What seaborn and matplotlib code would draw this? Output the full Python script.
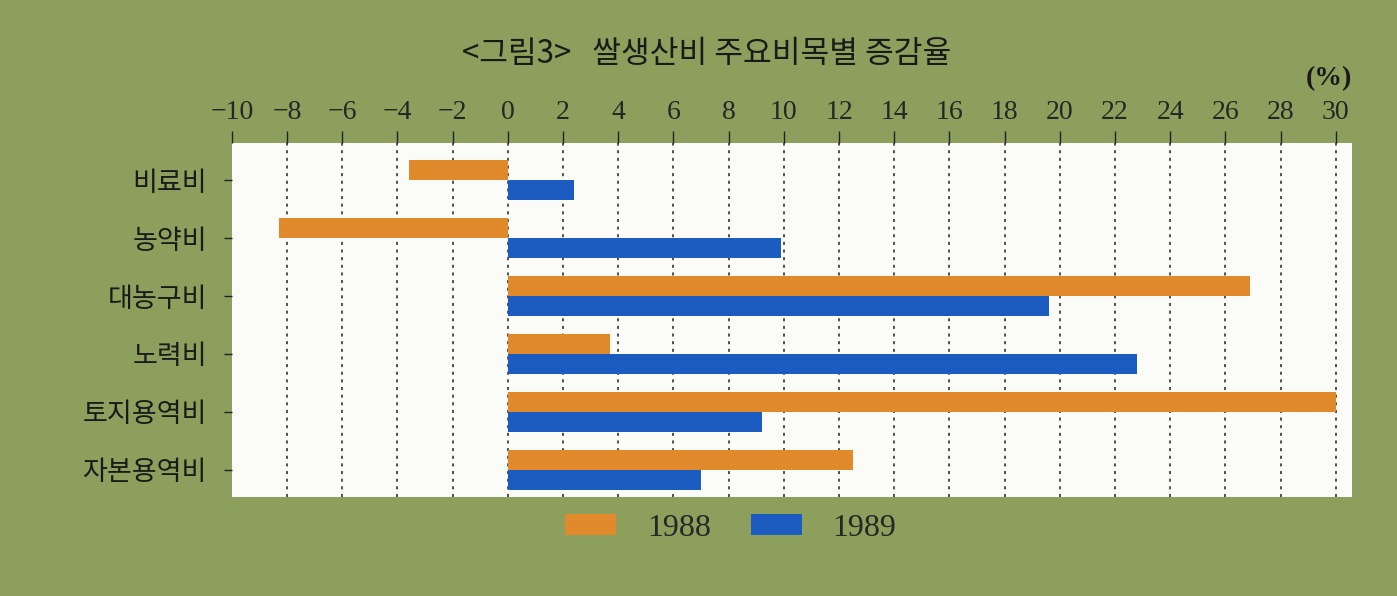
import pandas as pd
import matplotlib.pyplot as plt
import seaborn as sns

items = ['비료비', '농약비', '대농구비', '노력비', '토지용역비', '자본용역비']
rate_1988 = [-3.6, -8.3, 26.9, 3.7, 30.0, 12.5]
rate_1989 = [2.4, 9.9, 19.6, 22.8, 9.2, 7.0]
years = ['1988', '1989']
xticks = list(range(-10, 31, 2))

data = pd.DataFrame({
    'item': items * 2,
    'rate': rate_1988 + rate_1989,
    'year': [years[0]] * len(items) + [years[1]] * len(items),
})

sns.set_style('white')
plt.rcParams['font.family'] = ['Noto Sans CJK KR', 'DejaVu Sans']

bg = '#8c9f5c'
colors = {'1988': '#e08a2c', '1989': '#1c5cc0'}

fig = plt.figure(figsize=(13.97, 5.96), dpi=100, facecolor=bg)
ax = fig.add_axes([0.166, 0.166, 0.802, 0.594])
ax.set_facecolor('#fbfbf8')

sns.barplot(data=data, x='rate', y='item', hue='year', order=items,
            hue_order=years, palette=colors, orient='h', width=0.7,
            saturation=1, dodge=True, linewidth=0, ax=ax)

ax.set_xlim(-10, 30.6)
ax.set_ylim(5.47, -0.64)
ax.xaxis.tick_top()
ax.set_xticks(xticks)
ax.set_xticklabels([str(t).replace('-', '\u2212') for t in xticks],
                   fontsize=20, family=['Liberation Serif'])
ax.tick_params(axis='x', length=9, width=1, pad=4, color='#222222')
ax.tick_params(axis='y', length=6, width=1, pad=12, color='#222222', left=True)
for lab in ax.get_yticklabels():
    lab.set_fontsize(19.5)
    lab.set_color('#1a1a1a')
ax.set_xlabel('')
ax.set_ylabel('')
for s in ax.spines.values():
    s.set_visible(False)
for t in xticks[1:]:
    ax.axvline(t, color='#222222', linestyle=(0, (2, 3)), linewidth=1.1, zorder=0)

# legend under the plot
h, l = ax.get_legend_handles_labels()
ax.legend(h, l, loc='center', bbox_to_anchor=(0.523, 0.113),
          bbox_transform=fig.transFigure, ncol=2, frameon=False,
          prop={'family': 'Liberation Serif', 'size': 23},
          handlelength=1.6, handleheight=0.63, handletextpad=0.95,
          columnspacing=1.25)

fig.text(0.506, 0.91, '<그림3>   쌀생산비 주요비목별 증감율', ha='center',
         va='center', fontsize=22.5, fontweight='medium', color='#1a1a1a')
fig.text(0.951, 0.868, '(%)', ha='center', va='center', fontsize=20,
         fontweight='bold', family=['Liberation Serif'], color='#1a1a1a')

fig.savefig('out.png', dpi=100, facecolor=bg)
